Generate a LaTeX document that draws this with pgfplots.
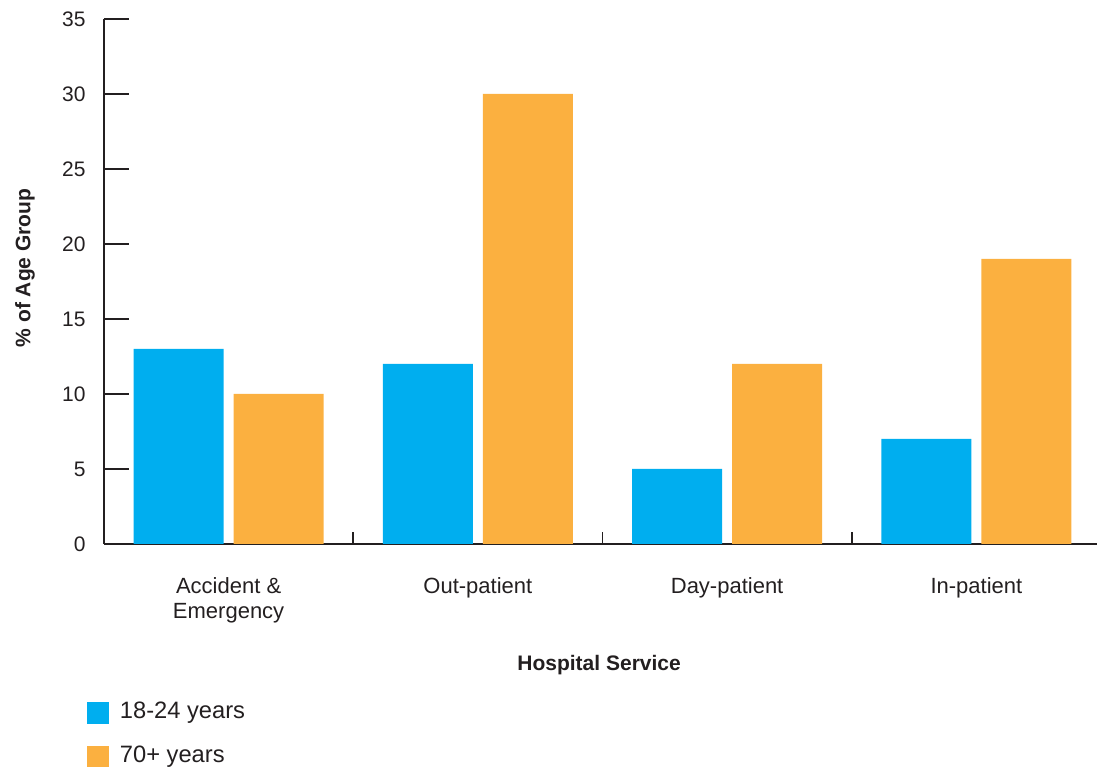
\documentclass[border=0pt]{standalone}
\usepackage{fontspec}
\setmainfont{Liberation Sans}
\usepackage{pgfplots}
\pgfplotsset{compat=1.18}
\usetikzlibrary{calc}
\definecolor{cblue}{HTML}{00AEEF}
\definecolor{corange}{HTML}{FBB040}
\definecolor{ctext}{HTML}{231F20}
\begin{document}
\begin{tikzpicture}
\begin{axis}[
  name=ax,
  scale only axis,
  width=997pt, height=525pt,
  xmin=-0.5, xmax=3.5,
  ymin=0, ymax=35,
  ytick={0,5,...,35},
  xtick={0,1,2,3},
  xticklabels={{Accident \&\\Emergency},Out-patient,Day-patient,In-patient},
  minor xtick={0.5,1.5,2.5},
  axis x line*=bottom, axis y line*=left,
  axis line style={-, line width=1.6pt, draw=ctext},
  tick align=inside,
  major tick length=25pt,
  minor tick length=12pt,
  xtick style={draw=none},
  minor x tick style={draw=ctext, line width=1.6pt, yshift=12pt},
  ytick style={draw=ctext, line width=1.6pt},
  /pgf/number format/assume math mode=true,
  yticklabel style={font=\fontsize{21}{25}\selectfont, text=ctext, xshift=-15pt},
  xticklabel style={font=\fontsize{22}{25}\selectfont, text=ctext, align=center, yshift=-5pt},
  ylabel={\textbf{\% of Age Group}},
  xlabel={\textbf{Hospital Service}},
  every axis y label/.style={at={(rel axis cs:-0.0792,0.526)}, rotate=90, anchor=center, font=\fontsize{21}{25}\selectfont, text=ctext},
  every axis x label/.style={at={(rel axis cs:0.4966,-0.2305)}, anchor=center, font=\fontsize{21}{25}\selectfont, text=ctext},
  ybar=10pt,
  bar width=90pt,
  legend style={draw=none, fill=none, inner sep=0pt, outer sep=0pt,
    at={(rel axis cs:-0.0171,-0.2966)}, anchor=north west,
    font=\fontsize{23.7}{28}\selectfont, text=ctext, row sep=20pt,
    /tikz/every odd column/.append style={column sep=9pt}},
  legend cell align=left,
]
\addplot[fill=cblue, draw=none, legend image code/.code={\fill[cblue] (0pt,-13pt) rectangle (22pt,9pt);}] coordinates {(0,13) (1,12) (2,5) (3,7)};
\addplot[fill=corange, draw=none, legend image code/.code={\fill[corange] (0pt,-13pt) rectangle (22pt,9pt);}] coordinates {(0,10) (1,30) (2,12) (3,19)};
\legend{18-24 years, 70+ years}
\end{axis}
\pgfresetboundingbox
\useasboundingbox ($(ax.south west)+(-104pt,-223pt)$) rectangle ($(ax.north east)+(-4pt,19pt)$);
\end{tikzpicture}
\end{document}
